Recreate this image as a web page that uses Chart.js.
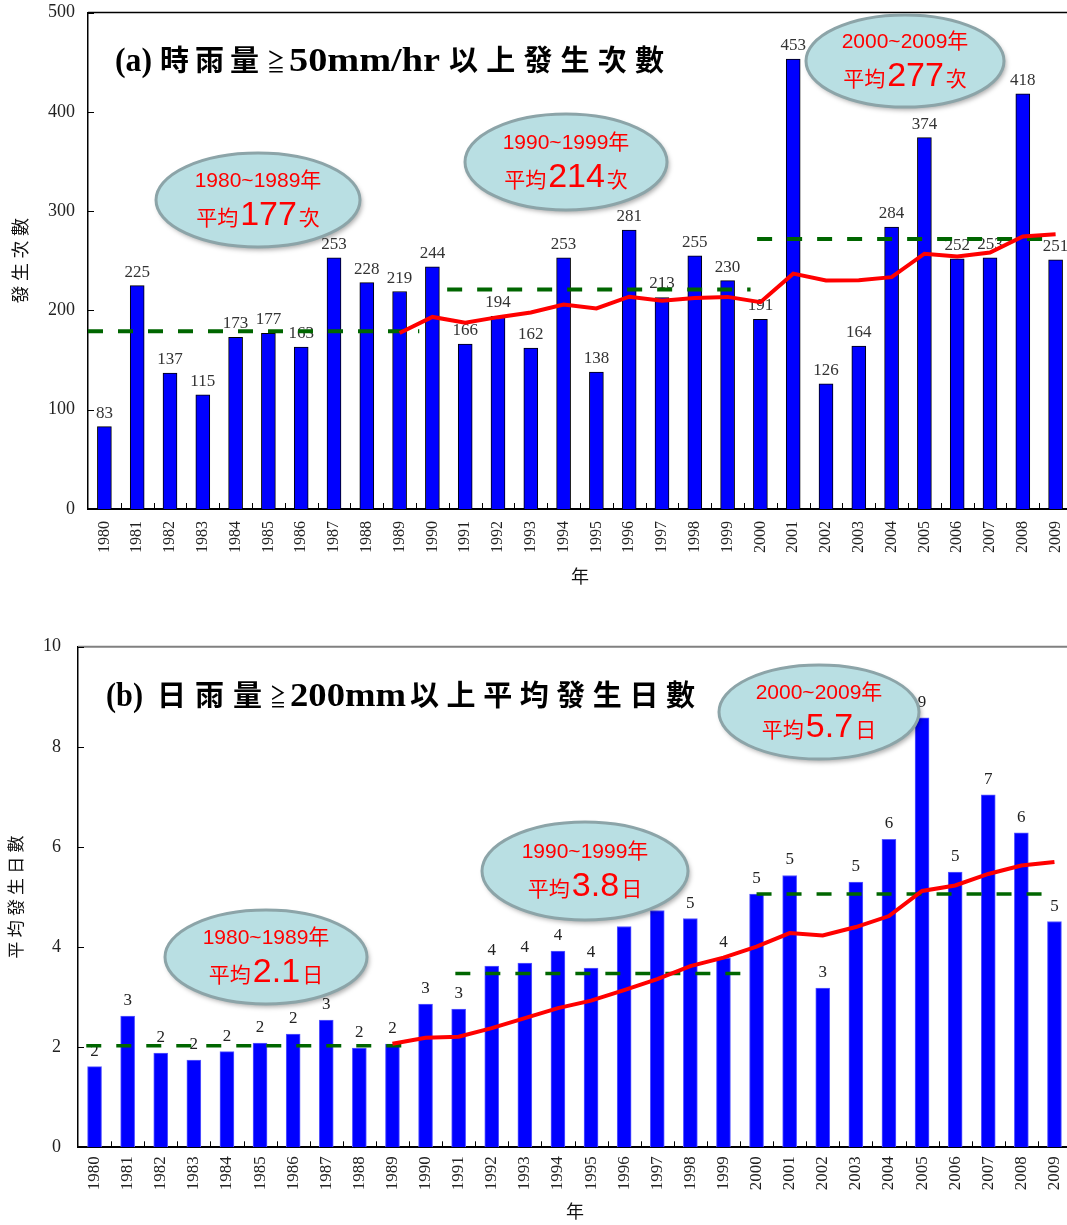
<!DOCTYPE html>
<html>
<head>
<meta charset="utf-8">
<title>雨量發生次數</title>
<script src="https://cdn.jsdelivr.net/npm/chart.js@4.4.0/dist/chart.umd.min.js"></script>
<style>
  html, body { margin: 0; padding: 0; background: #fff; overflow: hidden; }
  #page { position: relative; width: 1067px; height: 1225px; overflow: hidden; }
  canvas { position: absolute; left: 0; }
  #chartA { top: 0; }
  #chartB { top: 634px; }
</style>
</head>
<body>
<div id="page">
  <canvas id="chartA" width="1075" height="600"></canvas>
  <canvas id="chartB" width="1075" height="591"></canvas>
</div>
<script>
    // ---- data ----
    const years = ['1980', '1981', '1982', '1983', '1984', '1985', '1986', '1987', '1988', '1989',
                   '1990', '1991', '1992', '1993', '1994', '1995', '1996', '1997', '1998', '1999',
                   '2000', '2001', '2002', '2003', '2004', '2005', '2006', '2007', '2008', '2009'];

    // (a) hourly rain >= 50mm/hr, occurrences per year
    const hourlyCounts = [83, 225, 137, 115, 173, 177, 163, 253, 228, 219,
                          244, 166, 194, 162, 253, 138, 281, 213, 255, 230,
                          191, 453, 126, 164, 284, 374, 252, 253, 418, 251];
    const hourlyTrend = [null, null, null, null, null, null, null, null, null, 177.3,
                         193.4, 187.5, 193.2, 197.9, 205.9, 202.0, 213.8, 209.8, 212.5, 213.6,
                         208.3, 237.0, 230.2, 230.4, 233.5, 257.1, 254.2, 258.2, 274.5, 276.6];
    // decade reference lines: level and span in category-index units
    const hourlyDecadeLevel = [179, 221, 272];
    const hourlyDecadeFrom = [-0.5, 10.45, 19.9];
    const hourlyDecadeTo = [9.6, 19.7, 29.0];
    const hourlyDecadeMean = ['177', '214', '277'];

    // (b) daily rain >= 200mm, average days per year
    const dailyDays = [1.61, 2.62, 1.88, 1.74, 1.91, 2.08, 2.26, 2.54, 1.98, 2.06,
                       2.86, 2.76, 3.62, 3.68, 3.92, 3.58, 4.41, 4.73, 4.57, 3.78,
                       5.06, 5.43, 3.18, 5.30, 6.15, 8.58, 5.50, 7.04, 6.28, 4.51];
    const dailyLabels = ['2', '3', '2', '2', '2', '2', '2', '3', '2', '2',
                         '3', '3', '4', '4', '4', '4', '4', '5', '5', '4',
                         '5', '5', '3', '5', '6', '9', '5', '7', '6', '5'];
    const dailyTrend = [null, null, null, null, null, null, null, null, null, 2.07,
                        2.19, 2.21, 2.38, 2.58, 2.78, 2.93, 3.14, 3.36, 3.62, 3.79,
                        4.01, 4.28, 4.23, 4.40, 4.62, 5.12, 5.23, 5.46, 5.63, 5.70];
    const dailyDecadeLevel = [2.03, 3.47, 5.06];
    const dailyDecadeFrom = [-0.25, 10.9, 20.0];
    const dailyDecadeTo = [9.5, 19.8, 29.0];
    const dailyDecadeMean = ['2.1', '3.8', '5.7'];

    const decadeNames = ['1980~1989年', '1990~1999年', '2000~2009年'];

    // ---- styling ----
    const SERIF = '"Liberation Serif", "Noto Sans CJK TC"';
    const CJK = '"Noto Sans CJK TC"';
    const SANS = '"Liberation Sans", "Noto Sans CJK TC"';

    /**
     * Draw a text run squeezed/stretched to a target width, or spread char by char
     */
    function drawRuns(ctx, runs, baseline) {
        ctx.save();
        ctx.fillStyle = '#000';
        ctx.textBaseline = 'alphabetic';
        ctx.textAlign = 'left';
        runs.forEach(function(r) {
            ctx.font = r.font;
            if (r.spread) {
                const chars = Array.from(r.text);
                const last = ctx.measureText(chars[chars.length - 1]).width;
                const step = (r.x1 - r.x0 - last) / (chars.length - 1);
                chars.forEach(function(c, k) {
                    ctx.fillText(c, r.x0 + k * step, baseline);
                });
            } else {
                const w = ctx.measureText(r.text).width;
                ctx.save();
                ctx.translate(r.x0, baseline);
                ctx.scale((r.x1 - r.x0) / w, 1);
                ctx.fillText(r.text, 0, 0);
                ctx.restore();
            }
        });
        ctx.restore();
    }

    /**
     * Decade average bubble
     */
    function drawBubble(ctx, b, name, mean, unit) {
        ctx.save();
        ctx.beginPath();
        ctx.ellipse(b.cx, b.cy, b.rx, b.ry, 0, 0, Math.PI * 2);
        ctx.shadowColor = 'rgba(0,0,0,0.35)';
        ctx.shadowBlur = 5;
        ctx.shadowOffsetX = 2;
        ctx.shadowOffsetY = 3;
        ctx.fillStyle = '#b9dfe3';
        ctx.fill();
        ctx.shadowColor = 'rgba(0,0,0,0)';
        ctx.lineWidth = 3;
        ctx.strokeStyle = '#8ca4a8';
        ctx.stroke();

        ctx.fillStyle = '#ff0000';
        ctx.textBaseline = 'alphabetic';
        ctx.textAlign = 'center';
        ctx.font = '21px ' + SANS;
        ctx.fillText(name, b.cx, b.cy - 13);

        const small = '21px ' + CJK;
        const big = '34px "Liberation Sans"';
        ctx.font = small;
        const w1 = ctx.measureText('平均').width;
        const w3 = ctx.measureText(unit).width;
        ctx.font = big;
        const w2 = ctx.measureText(mean).width;
        const gap = 2;
        let x = b.cx - (w1 + w2 + w3 + gap * 2) / 2;
        const y = b.cy + 25;
        ctx.textAlign = 'left';
        ctx.font = small;
        ctx.fillText('平均', x, y);
        x += w1 + gap;
        ctx.font = big;
        ctx.fillText(mean, x, y);
        x += w2 + gap;
        ctx.font = small;
        ctx.fillText(unit, x, y);
        ctx.restore();
    }

    /**
     * Labels above bars, inward tick marks, frame, heading, bubbles
     */
    function decorPlugin(cfg) {
        return {
            id: 'decor',
            afterDatasetDraw: function(chart, args) {
                if (args.index !== 0) return;
                const ctx = chart.ctx;
                const meta = chart.getDatasetMeta(0);
                ctx.save();
                ctx.font = '17px "Liberation Serif"';
                ctx.fillStyle = cfg.labelColor;
                ctx.textAlign = 'center';
                ctx.textBaseline = 'alphabetic';
                meta.data.forEach(function(bar, i) {
                    ctx.fillText(cfg.labels[i], bar.x, bar.y - cfg.labelGap);
                });
                ctx.restore();
            },
            afterDatasetsDraw: function(chart) {
                const ctx = chart.ctx;
                const area = chart.chartArea;
                const xs = chart.scales.x;
                const ys = chart.scales.y;

                ctx.save();
                // top frame line
                ctx.strokeStyle = cfg.frameColor;
                ctx.lineWidth = cfg.frameWidth;
                ctx.beginPath();
                ctx.moveTo(area.left, area.top);
                ctx.lineTo(chart.width, area.top);
                ctx.stroke();

                // inward tick marks
                ctx.strokeStyle = '#000';
                ctx.lineWidth = 1;
                ctx.beginPath();
                ys.ticks.forEach(function(t, i) {
                    const y = Math.round(ys.getPixelForTick(i)) + 0.5;
                    ctx.moveTo(area.left, y);
                    ctx.lineTo(area.left + 6, y);
                });
                for (let i = 1; i < years.length; i++) {
                    const x = Math.round(xs.getPixelForValue(i - 0.5)) + 0.5;
                    ctx.moveTo(x, area.bottom);
                    ctx.lineTo(x, area.bottom - 6);
                }
                ctx.stroke();

                // x axis title
                ctx.fillStyle = '#111';
                ctx.font = '18px ' + SERIF;
                ctx.textAlign = 'center';
                ctx.textBaseline = 'middle';
                ctx.fillText('年', cfg.xTitle.x, cfg.xTitle.y);
                ctx.restore();

                drawRuns(ctx, cfg.heading, cfg.headingBaseline);

                cfg.bubbles.forEach(function(b, i) {
                    drawBubble(ctx, b, decadeNames[i], cfg.means[i], cfg.unit);
                });
            }
        };
    }

    function buildChart(canvasId, opt) {
        // decade lines live on the category axis in index units (parsing off)
        const decadeSets = opt.level.map(function(v, i) {
            return {
                type: 'line',
                xAxisID: 'x',
                yAxisID: 'y',
                parsing: false,
                data: [{x: opt.from[i], y: v}, {x: opt.to[i], y: v}],
                borderColor: '#006600',
                borderWidth: opt.dashWidth,
                borderDash: [15, 15],
                pointRadius: 0,
                fill: false,
                order: 2
            };
        });

        return new Chart(document.getElementById(canvasId), {
            type: 'bar',
            data: {
                labels: years,
                datasets: [{
                    type: 'bar',
                    xAxisID: 'x',
                    yAxisID: 'y',
                    data: opt.values,
                    backgroundColor: '#0000ff',
                    borderColor: opt.barBorder,
                    borderWidth: 1,
                    barThickness: opt.barWidth,
                    grouped: false,
                    order: 3
                }].concat(decadeSets, [{
                    type: 'line',
                    xAxisID: 'x',
                    yAxisID: 'y',
                    data: opt.trend,
                    borderColor: '#ff0000',
                    borderWidth: 4,
                    pointRadius: 0,
                    tension: 0,
                    fill: false,
                    order: 1
                }])
            },
            options: {
                responsive: false,
                devicePixelRatio: 1,
                animation: false,
                events: [],
                layout: {padding: opt.padding},
                plugins: {
                    legend: {display: false},
                    tooltip: {enabled: false}
                },
                scales: {
                    x: {
                        type: 'category',
                        position: 'bottom',
                        offset: true,
                        grid: {display: false, drawTicks: false, tickLength: 0},
                        border: {display: true, color: '#000', width: 2},
                        ticks: {
                            font: {family: '"Liberation Serif"', size: opt.xFont},
                            color: '#222',
                            minRotation: 90,
                            maxRotation: 90,
                            autoSkip: false,
                            padding: opt.xPad
                        },
                        afterFit: function(s) {
                            s.height = opt.xHeight;
                            s.paddingLeft = 0;
                            s.paddingRight = 0;
                        }
                    },
                    y: {
                        min: 0,
                        max: opt.yMax,
                        grid: {display: false, drawTicks: false, tickLength: 0},
                        border: {display: true, color: '#000', width: 1.5},
                        ticks: {
                            stepSize: opt.yStep,
                            font: {family: '"Liberation Serif"', size: 18},
                            color: '#222',
                            padding: opt.yPad
                        },
                        title: {
                            display: true,
                            text: opt.yTitle,
                            font: {family: SERIF, size: opt.yTitleSize},
                            color: '#111',
                            padding: {top: opt.yTitlePad, bottom: 0}
                        },
                        afterFit: function(s) {
                            s.width = opt.yWidth;
                            s.paddingTop = 0;
                            s.paddingBottom = 0;
                        }
                    }
                }
            },
            plugins: [decorPlugin(opt.decor)]
        });
    }

    // (a)
    buildChart('chartA', {
        values: hourlyCounts,
        trend: hourlyTrend,
        level: hourlyDecadeLevel,
        from: hourlyDecadeFrom,
        to: hourlyDecadeTo,
        dashWidth: 4,
        barBorder: '#000',
        barWidth: 14,
        padding: {top: 12.5, right: 3, left: 0, bottom: 0},
        xFont: 16, xPad: 12, xHeight: 91,
        yMax: 500, yStep: 100, yPad: 13, yWidth: 88,
        yTitle: '發 生 次 數', yTitleSize: 18, yTitlePad: 11,
        decor: {
            labels: hourlyCounts.map(String),
            labelGap: 9,
            labelColor: '#333',
            frameColor: '#000',
            frameWidth: 1.5,
            xTitle: {x: 580, y: 578},
            headingBaseline: 71,
            heading: [
                {text: '(a)', font: 'bold 33px "Liberation Serif"', x0: 115, x1: 152},
                {text: '時雨量', font: 'bold 29px ' + CJK, x0: 160, x1: 259, spread: true},
                {text: '≧', font: '24px ' + CJK, x0: 267, x1: 285},
                {text: '50mm/hr', font: 'bold 33px "Liberation Serif"', x0: 289, x1: 440},
                {text: '以上發生次數', font: 'bold 29px ' + CJK, x0: 449, x1: 664, spread: true}
            ],
            bubbles: [
                {cx: 258, cy: 200, rx: 102, ry: 47},
                {cx: 566, cy: 162, rx: 101, ry: 48},
                {cx: 905, cy: 61, rx: 99, ry: 46}
            ],
            means: hourlyDecadeMean,
            unit: '次'
        }
    });

    // (b)
    buildChart('chartB', {
        values: dailyDays,
        trend: dailyTrend,
        level: dailyDecadeLevel,
        from: dailyDecadeFrom,
        to: dailyDecadeTo,
        dashWidth: 3.5,
        barBorder: '#5a5aff',
        barWidth: 14,
        padding: {top: 12.7, right: 4, left: 0, bottom: 0},
        xFont: 17, xPad: 9, xHeight: 77.7,
        yMax: 10, yStep: 2, yPad: 17, yWidth: 78,
        yTitle: '平 均 發 生 日 數', yTitleSize: 17, yTitlePad: 7,
        decor: {
            labels: dailyLabels,
            labelGap: 11,
            labelColor: '#222',
            frameColor: '#808080',
            frameWidth: 2,
            xTitle: {x: 575, y: 579},
            headingBaseline: 72,
            heading: [
                {text: '(b)', font: 'bold 33px "Liberation Serif"', x0: 106, x1: 143},
                {text: '日雨量', font: 'bold 29px ' + CJK, x0: 157, x1: 262, spread: true},
                {text: '≧', font: '24px ' + CJK, x0: 270, x1: 286},
                {text: '200mm', font: 'bold 33px "Liberation Serif"', x0: 290, x1: 406},
                {text: '以上平均發生日數', font: 'bold 29px ' + CJK, x0: 410, x1: 695, spread: true}
            ],
            bubbles: [
                {cx: 266, cy: 323, rx: 101, ry: 47},
                {cx: 585, cy: 237, rx: 103, ry: 49},
                {cx: 819, cy: 78, rx: 100, ry: 47}
            ],
            means: dailyDecadeMean,
            unit: '日'
        }
    });
</script>
</body>
</html>
